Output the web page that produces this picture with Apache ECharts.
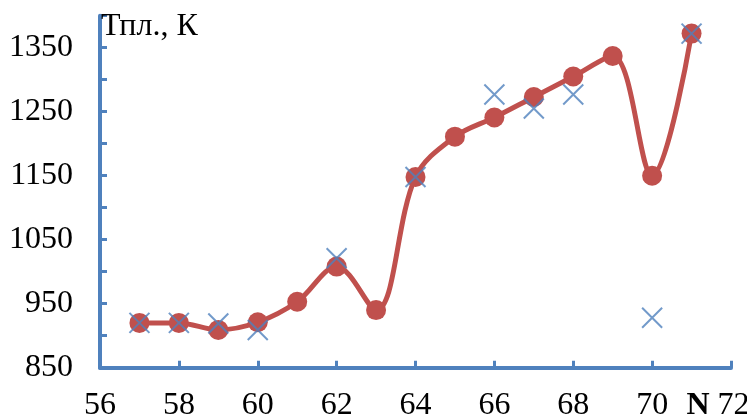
<!DOCTYPE html>
<html><head><meta charset="utf-8">
<script src="https://cdn.jsdelivr.net/npm/echarts@6/dist/echarts.min.js"></script>
<style>html,body{margin:0;padding:0;background:#fff}#c{width:747px;height:417px}</style>
</head><body><div id="c"></div>
<script>
// Red smoothed series (N, Tпл)
const redN = [57,58,59,60,61,62,63,64,65,66,67,68,69,70,71];
const redT = [920,920,909,921,953,1008,940,1148,1211,1241,1273,1305,1337,1150,1372];
// Blue cross markers
const blueN = [57,58,59,60,62,64,66,67,68,70,71];
const blueT = [920,920,919,909,1021,1148,1277,1255,1277,928,1372];
// Axis ticks
const yLabels = [850,950,1050,1150,1250,1350];
const xTickLabels = [56,58,60,62,64,66,68,70,72];

const FONT = "'Liberation Serif','Times New Roman',serif";
const BLUE = '#4f81bd', RED = '#c0504d';
const chart = echarts.init(document.getElementById('c'), null, {renderer:'canvas'});
chart.setOption({
  animation:false,
  title:{text:'Тпл., К', left:101, top:11, padding:0, textStyle:{fontFamily:FONT, fontSize:32, fontWeight:'normal', color:'#000'}},
  grid:{left:100, right:16, top:15.7, bottom:49.3, containLabel:false, outerBoundsMode:'none'},
  xAxis:{type:'value', min:56, max:72, interval:2,
    axisLine:{lineStyle:{color:BLUE, width:4}},
    axisTick:{inside:true, length:7, lineStyle:{color:BLUE, width:3}},
    splitLine:{show:false},
    axisLabel:{margin:22, fontFamily:FONT, fontSize:32, color:'#000',
      formatter:v => xTickLabels.includes(v) ? (v===72 ? '{n|N} {t|72}' : String(v)) : '',
      rich:{n:{fontFamily:FONT, fontSize:32, fontWeight:'bold', color:'#000'},
            t:{fontFamily:FONT, fontSize:32, color:'#000', padding:[0,26,0,0]}}}
  },
  yAxis:{type:'value', min:850, max:1400, interval:50,
    axisLine:{show:true, lineStyle:{color:BLUE, width:4}},
    axisTick:{show:true, inside:true, length:7, lineStyle:{color:BLUE, width:3}},
    splitLine:{show:false},
    axisLabel:{margin:27, fontFamily:FONT, fontSize:32, color:'#000',
      formatter:v => yLabels.includes(v) ? String(v) : ''}
  },
  series:[
    {type:'line', data:redN.map((n,i)=>[n,redT[i]]), smooth:0.35,
     lineStyle:{color:RED, width:5}, symbol:'circle', symbolSize:20,
     itemStyle:{color:RED}, z:2},
    {type:'scatter', data:blueN.map((n,i)=>[n,blueT[i]]),
     symbol:'path://M0,0L10,10M10,0L0,10', symbolSize:20,
     itemStyle:{color:'transparent', borderColor:BLUE, borderWidth:2}, z:3}
  ]
});
</script></body></html>
